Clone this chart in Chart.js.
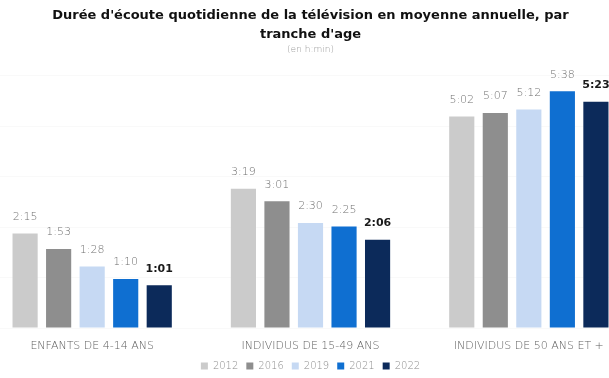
<!DOCTYPE html>
<html>
<head>
<meta charset="utf-8">
<script src="https://cdn.jsdelivr.net/npm/chart.js@4.4.1/dist/chart.umd.min.js"></script>
<style>
  html, body { margin: 0; padding: 0; background: #fff; overflow: hidden; }
  #wrap { position: absolute; left: -17px; top: 0; width: 655px; height: 378px; }
</style>
</head>
<body>
<div id="wrap"><canvas id="chartDuree" width="655" height="378"></canvas></div>
<script>
// Catégories et années
const categories = ['ENFANTS DE 4-14 ANS', 'INDIVIDUS DE 15-49 ANS', 'INDIVIDUS DE 50 ANS ET +'];
const annees = ['2012', '2016', '2019', '2021', '2022'];

const duree2012 = [135, 199, 302];
const duree2016 = [113, 181, 307];
const duree2019 = [88, 150, 312];
const duree2021 = [70, 145, 338];
const duree2022 = [61, 126, 323];

const couleurs = ['#cbcbcb', '#8e8e8e', '#c6d9f3', '#0f6fd1', '#0c2a5a'];
const series = [duree2012, duree2016, duree2019, duree2021, duree2022];

function enHeures(min) {
    const h = Math.floor(min / 60);
    const m = min % 60;
    return h + ':' + (m < 10 ? '0' + m : m);
}

// Étiquettes au-dessus des barres
const etiquettes = {
    id: 'etiquettes',
    afterDatasetsDraw(chart) {
        const ctx = chart.ctx;
        ctx.save();
        ctx.textAlign = 'center';
        ctx.textBaseline = 'bottom';
        chart.data.datasets.forEach((ds, i) => {
            const meta = chart.getDatasetMeta(i);
            const dernier = i === chart.data.datasets.length - 1;
            ctx.font = dernier ? 'bold 11px "DejaVu Sans", sans-serif' : '200 11px "DejaVu Sans", sans-serif';
            ctx.fillStyle = dernier ? '#1a1a1a' : '#6f6f6f';
            meta.data.forEach((bar, j) => {
                ctx.fillText(enHeures(ds.data[j]), bar.x, bar.y - 11);
            });
        });
        ctx.restore();
    }
};

const ctx = document.getElementById('chartDuree').getContext('2d');
new Chart(ctx, {
    type: 'bar',
    data: {
        labels: categories,
        datasets: annees.map((a, i) => ({
            label: a,
            data: series[i],
            backgroundColor: couleurs[i],
            categoryPercentage: 0.768,
            barPercentage: 0.75
        }))
    },
    options: {
        responsive: false,
        animation: false,
        layout: { padding: { top: 0, left: 0, right: 0, bottom: -3 } },
        scales: {
            x: {
                grid: { display: false, drawTicks: false },
                border: { display: false },
                ticks: { color: '#5f5f5f', font: { family: 'DejaVu Sans', size: 11, weight: 200 }, padding: 12 },
                afterFit(scale) { scale.height = 25; }
            },
            y: {
                min: 0,
                max: 360,
                ticks: { display: false, stepSize: 72 },
                grid: { color: 'rgba(0,0,0,0.025)', drawTicks: false },
                border: { display: false }
            }
        },
        plugins: {
            title: {
                display: true,
                text: ["Durée d'écoute quotidienne de la télévision en moyenne annuelle, par", "tranche d'age"],
                color: '#111',
                font: { family: 'DejaVu Sans', size: 13, weight: 'bold', lineHeight: 1.46 },
                padding: { top: 6.5, bottom: 0 }
            },
            subtitle: {
                display: true,
                text: '(en h:min)',
                color: '#999',
                font: { family: 'DejaVu Sans', size: 9, weight: 200, lineHeight: 1.2 },
                padding: { top: 0, bottom: 20.7 }
            },
            legend: {
                position: 'bottom',
                labels: {
                    boxWidth: 7,
                    boxHeight: 7,
                    padding: 8,
                    color: '#8a8a8a',
                    font: { family: 'DejaVu Sans', size: 10, weight: 200 }
                }
            },
            tooltip: { enabled: false }
        }
    },
    plugins: [etiquettes]
});
</script>
</body>
</html>
